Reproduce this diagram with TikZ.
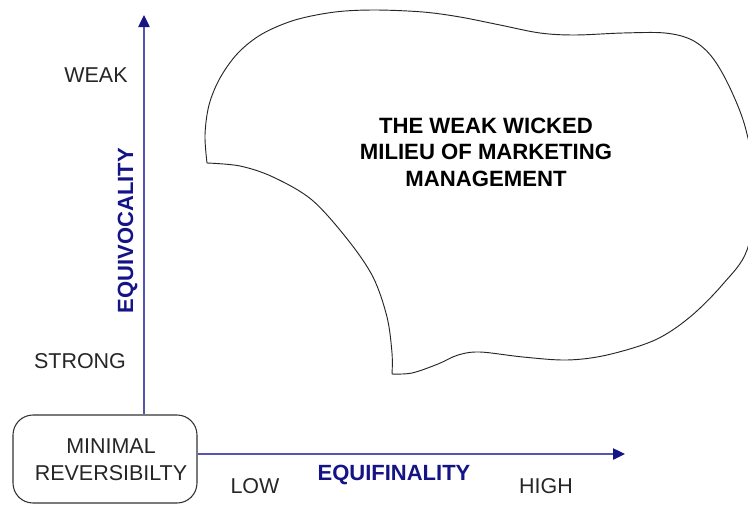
\documentclass[tikz,border=0pt]{standalone}
\usepackage{fontspec}
\setmainfont{Liberation Sans}
\usetikzlibrary{arrows.meta}
\definecolor{axisline}{RGB}{85,85,175}
\definecolor{axisdark}{RGB}{20,20,135}
\begin{document}
\begin{tikzpicture}[x=0.75pt,y=-0.75pt,
  lbl/.style={inner sep=0pt,font=\fontsize{16.1}{20.2}\selectfont,text=black!85},
  bluelbl/.style={inner sep=0pt,font=\bfseries\fontsize{16.5}{20}\selectfont,text=axisdark},
  boldlbl/.style={inner sep=0pt,align=center,font=\bfseries\fontsize{16.6}{19.8}\selectfont,text=black},
  boxstyle/.style={draw=black!80,line width=0.8pt,rounded corners=15pt,minimum width=138pt,minimum height=66pt,inner sep=0pt},
  axis/.style={draw=axisline,line width=1pt,-{Triangle[length=9pt,width=8.5pt,color=axisdark]}},
  blob/.style={draw=black!85,line width=0.7pt}]
\useasboundingbox (0,0) rectangle (748,504);
\clip (0,0) rectangle (748,504);
\fill[white] (0,0) rectangle (748,504);

% blob
\draw[blob] plot[smooth,tension=0.55] coordinates {(207,163) (205,135) (209,105) (220,78) (238,53) (262,34) (295,20) (335,12) (375,10) (423,12) (460,17) (500,25) (540,33) (575,35) (623,33) (665,33) (692,40) (712,57) (730,88) (746,130) (756,190) (747,250) (723,284) (690,317) (655,340) (607,355) (567,360) (523,357) (480,352) (458,355) (438,364) (412,373) (392,374)}
  plot[smooth,tension=0.55] coordinates {(392,374) (392,353) (387,317) (373,277) (348,240) (312,200) (273,177) (240,166) (207,163)};

\node[boldlbl] (milieu) at (486,152) {THE WEAK WICKED\\MILIEU OF MARKETING\\MANAGEMENT};

% box
\node[boxstyle] (box) at (105,459) {};
\node[lbl,align=center] (boxtext) at (111,459.5) {MINIMAL\\REVERSIBILTY};

% axes
\coordinate (vtip) at (144,15);
\coordinate (htip) at (625,454);
\draw[axis] (box.north -| vtip) -- (vtip);
\draw[axis] (box.east |- htip) -- (htip);

% labels
\node[lbl,anchor=base] (weak) at (96,82) {WEAK};
\node[lbl,anchor=base] (strong) at (80,368) {STRONG};
\node[bluelbl,anchor=base,rotate=90] (equiv) at (133,230.5) {EQUIVOCALITY};
\node[lbl,anchor=base] (low) at (255,493) {LOW};
\node[bluelbl,anchor=base] (equif) at (394,480) {EQUIFINALITY};
\node[lbl,anchor=base] (high) at (546,493) {HIGH};
\end{tikzpicture}
\end{document}
